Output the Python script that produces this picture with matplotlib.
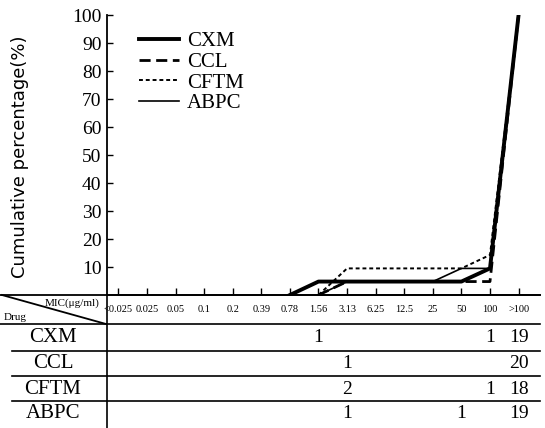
import matplotlib.pyplot as plt
import matplotlib.transforms as mtransforms
from matplotlib.lines import Line2D

# MIC categories (ug/ml)
mic_labels = ['<0.025', '0.025', '0.05', '0.1', '0.2', '0.39', '0.78', '1.56',
              '3.13', '6.25', '12.5', '25', '50', '100', '>100']
drugs = ['CXM', 'CCL', 'CFTM', 'ABPC']

# number of strains at each MIC (index into mic_labels -> count)
counts = {
    'CXM': {7: 1, 13: 1, 14: 19},
    'CCL': {8: 1, 14: 20},
    'CFTM': {8: 2, 13: 1, 14: 18},
    'ABPC': {8: 1, 12: 1, 14: 19},
}

# cumulative percentage curves, starting from the last MIC with 0 %
cxm_x = [6, 7, 8, 9, 10, 11, 12, 13, 14]
cxm_y = [0, 4.8, 4.8, 4.8, 4.8, 4.8, 4.8, 9.5, 100]
ccl_x = [7, 8, 9, 10, 11, 12, 13, 14]
ccl_y = [0, 4.8, 4.8, 4.8, 4.8, 4.8, 4.8, 100]
cftm_x = [7, 8, 9, 10, 11, 12, 13, 14]
cftm_y = [0, 9.5, 9.5, 9.5, 9.5, 9.5, 14.3, 100]
abpc_x = [7, 8, 9, 10, 11, 12, 13, 14]
abpc_y = [0, 4.8, 4.8, 4.8, 4.8, 9.5, 9.5, 100]

serif = ['Liberation Serif', 'DejaVu Serif']
W, H = 545, 428

fig = plt.figure(figsize=(5.45, 4.28), dpi=100)
ax = fig.add_axes([107 / W, 1 - 295 / H, (540 - 107) / W, (295 - 15) / H])

ax.plot(cxm_x, cxm_y, color='black', lw=2.8, ls='-', label='CXM')
ax.plot(ccl_x, ccl_y, color='black', lw=2.0, ls=(0, (4, 2)), label='CCL')
ax.plot(cftm_x, cftm_y, color='black', lw=1.4, ls=(0, (2, 1.5)), label='CFTM')
ax.plot(abpc_x, abpc_y, color='black', lw=1.2, ls='-', label='ABPC')

ax.set_xlim(-0.4, 14.75)
ax.set_ylim(0, 100)
ax.set_xticks(range(len(mic_labels)))
ax.set_xticklabels([])
ax.set_yticks(range(10, 101, 10))
ax.set_yticklabels([str(v) for v in range(10, 101, 10)], family=serif, fontsize=14)
ax.tick_params(axis='both', direction='in', length=4, width=1, pad=4)
ax.tick_params(axis='x', length=5)
for s in ['top', 'right']:
    ax.spines[s].set_visible(False)
for s in ['left', 'bottom']:
    ax.spines[s].set_linewidth(1.3)

leg = ax.legend(loc='upper left', bbox_to_anchor=(0.055, 0.97), frameon=False,
                prop={'family': serif, 'size': 15}, handlelength=1.9,
                handletextpad=0.4, labelspacing=0.05, borderaxespad=0)

fig.text(20 / W, 1 - 157 / H, 'Cumulative percentage(%)', rotation=90,
         ha='center', va='center', fontsize=13, family='DejaVu Sans')

# table below the chart
def fy(py):
    return 1 - py / H

def hline(x0, x1, py, lw=1.2):
    fig.add_artist(Line2D([x0 / W, x1 / W], [fy(py), fy(py)], color='black',
                          lw=lw, transform=fig.transFigure))

hline(0, 540, 295, 1.3)
hline(0, 540, 324)
hline(12, 540, 351)
hline(12, 540, 376)
hline(12, 540, 401)
fig.add_artist(Line2D([107 / W, 107 / W], [fy(295), 0], color='black', lw=1.2,
                      transform=fig.transFigure))
fig.add_artist(Line2D([2 / W, 106 / W], [fy(295), fy(324)], color='black', lw=1.3,
                      transform=fig.transFigure))
fig.text(100 / W, fy(303), 'MIC(μg/ml)', ha='right', va='center', fontsize=8,
         family=serif)
fig.text(4 / W, fy(318), 'Drug', ha='left', va='center', fontsize=8, family=serif)

trans = mtransforms.blended_transform_factory(ax.transData, fig.transFigure)
for i, lab in enumerate(mic_labels):
    ax.text(i, fy(309), lab, transform=trans, ha='center', va='center',
            fontsize=7.5, family=serif)

row_y = [338, 364, 389, 414]
for d, py in zip(drugs, row_y):
    fig.text(53 / W, fy(py), d, ha='center', va='center', fontsize=15, family=serif)
    for i, c in counts[d].items():
        ax.text(i, fy(py), str(c), transform=trans, ha='center', va='center',
                fontsize=14, family=serif)

fig.savefig('out.png', dpi=100)
